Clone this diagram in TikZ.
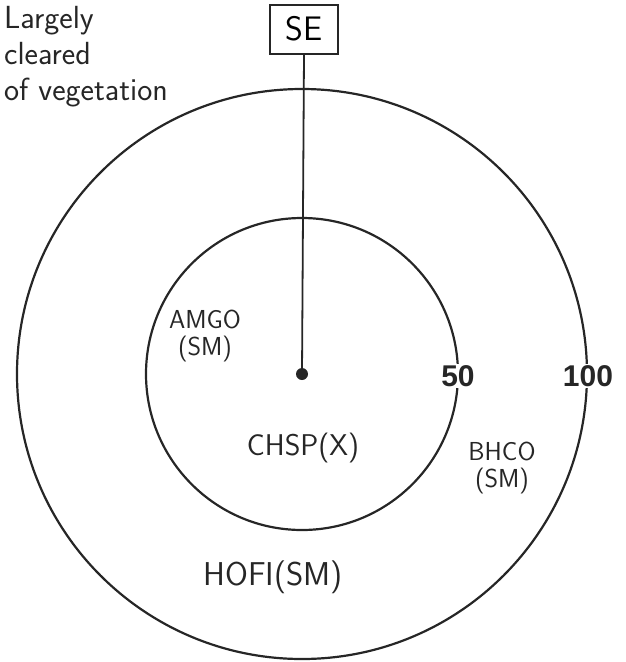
\documentclass[tikz,border=0pt]{standalone}
\usepackage{fontspec}
\newfontfamily\numfont{Liberation Sans}
\tikzset{
  ring/.style={draw=black!85, line width=2.2pt},
  hand/.style={font=\sffamily\fontsize{26}{27}\selectfont, align=center, text=black!85, inner sep=1pt},
  dist/.style={font=\numfont\bfseries\fontsize{30}{32}\selectfont, fill=white, inner sep=1pt, text=black!85},
  sebox/.style={draw=black!85, line width=2pt, minimum width=68pt, minimum height=49pt, inner sep=0pt, font=\sffamily\fontsize{34}{36}\selectfont}
}
\begin{document}
\begin{tikzpicture}[x=1pt,y=-1pt]
\useasboundingbox (0,0) rectangle (626,662);
\draw[ring] (302,374) circle (285);
\draw[ring] (302,374) circle (156);
\node[sebox] (se) at (304,29) {SE};
\fill[black!85] (302,374) circle (6);
\coordinate (c) at (302,374);
\draw[draw=black!85, line width=1.8pt] (se.south) -- (c);
\node[dist] (l50) at (458,376) {50};
\node[dist] (l100) at (588,376) {100};
\node[hand, anchor=north west, align=left, font=\sffamily\fontsize{32}{36}\selectfont] (veg) at (3,5) {Largely\\ cleared\\ of vegetation};
\node[hand] (amgo) at (205,336) {AMGO\\(SM)};
\node[hand, font=\sffamily\fontsize{30}{32}\selectfont] (chsp) at (303,448) {CHSP(X)};
\node[hand] (bhco) at (502,468) {BHCO\\(SM)};
\node[hand, font=\sffamily\fontsize{33}{35}\selectfont] (hofi) at (273,577) {HOFI(SM)};
\end{tikzpicture}
\end{document}
